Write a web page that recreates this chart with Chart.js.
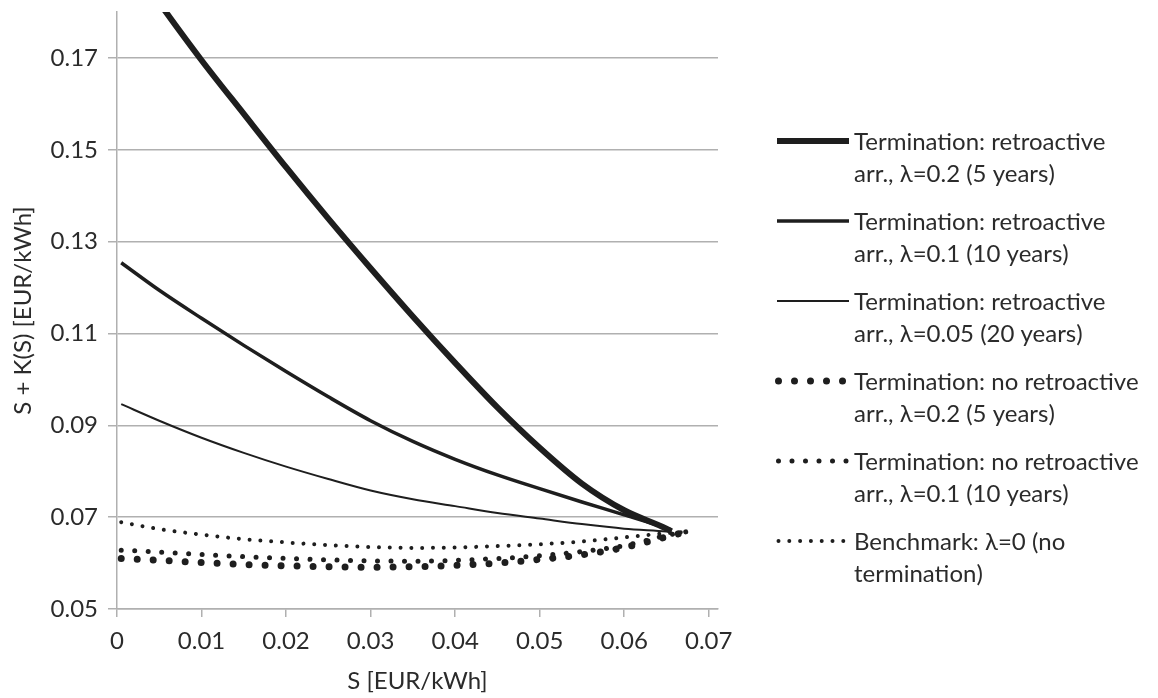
<!DOCTYPE html>
<html>
<head>
<meta charset="utf-8">
<script src="https://cdn.jsdelivr.net/npm/chart.js@4.4.1/dist/chart.umd.min.js"></script>
<style>
  html, body { margin: 0; padding: 0; background: #fff; }
  #wrap { position: relative; width: 1158px; height: 698px; font-family: Lato, sans-serif; color: #2b2b2b; }
  #legend { position: absolute; left: 775px; top: 125px; }
  .entry { display: flex; align-items: flex-start; height: 80px; }
  .entry svg { flex: 0 0 auto; margin-top: 6px; }
  .entry span { margin-left: 5px; font-size: 24px; line-height: 32px; white-space: pre-line; }
</style>
</head>
<body>
<div id="wrap">
  <canvas id="chart" width="1158" height="698"></canvas>
  <div id="legend"></div>
</div>
<script>
// S grid (EUR/kWh) for the retroactive and the non-retroactive curves
const sRetro = [0.0005, 0.005, 0.01, 0.015, 0.02, 0.025, 0.03, 0.035, 0.04, 0.045, 0.05, 0.055, 0.06, 0.065, 0.0656];
const sNoRetro = [0.0005, 0.005, 0.01, 0.015, 0.02, 0.025, 0.03, 0.035, 0.04, 0.045, 0.05, 0.055, 0.06, 0.065, 0.0673];

// S + K(S)
const retro02 = [0.1938, 0.1820, 0.1695, 0.1578, 0.1462, 0.1350, 0.1242, 0.1137, 0.1036, 0.0939, 0.0851, 0.0773, 0.0715, 0.0675, 0.0669];
const retro01 = [0.1254, 0.1194, 0.1133, 0.1074, 0.1017, 0.0962, 0.0910, 0.0865, 0.0826, 0.0792, 0.0762, 0.0733, 0.0705, 0.0676, 0.0672];
const retro005 = [0.0946, 0.0910, 0.0873, 0.0840, 0.0810, 0.0783, 0.0758, 0.0739, 0.0724, 0.0709, 0.0697, 0.0685, 0.0675, 0.0669, 0.0668];
const noRetro02 = [0.0610, 0.0606, 0.0601, 0.0597, 0.0594, 0.0592, 0.0591, 0.0592, 0.0595, 0.0600, 0.0608, 0.0618, 0.0634, 0.0657, 0.0668];
const noRetro01 = [0.0628, 0.0624, 0.0619, 0.0614, 0.0610, 0.0607, 0.0605, 0.0604, 0.0606, 0.0610, 0.0616, 0.0625, 0.0638, 0.0660, 0.0668];
const benchmark = [0.0689, 0.0674, 0.0662, 0.0652, 0.0645, 0.0639, 0.0635, 0.0633, 0.0634, 0.0637, 0.0641, 0.0647, 0.0656, 0.0665, 0.0668];

const seriesLabels = [
  'Termination: retroactive\narr., λ=0.2 (5 years)',
  'Termination: retroactive\narr., λ=0.1 (10 years)',
  'Termination: retroactive\narr., λ=0.05 (20 years)',
  'Termination: no retroactive\narr., λ=0.2 (5 years)',
  'Termination: no retroactive\narr., λ=0.1 (10 years)',
  'Benchmark: λ=0 (no\ntermination)',
];

const xTicks = [0, 0.01, 0.02, 0.03, 0.04, 0.05, 0.06, 0.07];
const yTicks = [0.05, 0.07, 0.09, 0.11, 0.13, 0.15, 0.17];

// line look: width, and gap between round dots (0 = solid)
const looks = [
  { w: 6, gap: 0 },
  { w: 3.5, gap: 0 },
  { w: 2, gap: 0 },
  { w: 7, gap: 16 },
  { w: 5, gap: 13.5 },
  { w: 4, gap: 10.8 },
];

const xs = [sRetro, sRetro, sRetro, sNoRetro, sNoRetro, sNoRetro];
const ys = [retro02, retro01, retro005, noRetro02, noRetro01, benchmark];

const INK = '#1e1e1e';
const GRID = '#b0b0b0';
const TEXT = '#2b2b2b';

Chart.defaults.font.family = 'Lato, sans-serif';
Chart.defaults.font.size = 24;
Chart.defaults.color = TEXT;

const datasets = ys.map((vals, i) => ({
  label: seriesLabels[i],
  data: vals.map((v, j) => ({ x: xs[i][j], y: v })),
  borderColor: INK,
  borderWidth: looks[i].w,
  borderDash: looks[i].gap ? [0.001, looks[i].gap] : [],
  borderCapStyle: looks[i].gap ? 'round' : 'butt',
  cubicInterpolationMode: 'monotone',
  pointRadius: 0,
  fill: false,
  clip: 0,
}));

new Chart(document.getElementById('chart'), {
  type: 'line',
  data: { datasets },
  options: {
    responsive: false,
    animation: false,
    layout: { padding: { top: 12, right: 440, left: 0, bottom: 0 } },
    plugins: { legend: { display: false }, tooltip: { enabled: false } },
    scales: {
      x: {
        type: 'linear',
        min: 0,
        max: 0.0711,
        afterBuildTicks: (s) => { s.ticks = xTicks.map((v) => ({ value: v })); },
        afterFit: (s) => { s.height = 89; s.paddingLeft = 0; s.paddingRight = 0; },
        ticks: { padding: 10, maxRotation: 0, callback: (v) => (v === 0 ? '0' : v.toFixed(2)) },
        grid: { drawOnChartArea: false, drawTicks: true, tickLength: 8, color: GRID, lineWidth: 1.5 },
        border: { color: GRID, width: 1.5 },
        title: { display: true, text: 'S [EUR/kWh]', padding: { top: 0, bottom: 2 } },
      },
      y: {
        min: 0.05,
        max: 0.18,
        afterBuildTicks: (s) => { s.ticks = yTicks.map((v) => ({ value: v })); },
        afterFit: (s) => { s.width = 117; s.paddingTop = 0; s.paddingBottom = 0; },
        ticks: { padding: 10, callback: (v) => v.toFixed(2) },
        grid: { color: GRID, lineWidth: 1.5, tickLength: 9 },
        border: { color: GRID, width: 1.5 },
        title: { display: true, text: 'S + K(S) [EUR/kWh]', padding: { top: 9, bottom: 0 } },
      },
    },
  },
});

// legend on the right, built from the same labels and looks
const legend = document.getElementById('legend');
seriesLabels.forEach((name, i) => {
  const lk = looks[i];
  const dash = lk.gap ? `stroke-dasharray="0.001 ${lk.gap}" stroke-linecap="round"` : '';
  const x1 = lk.gap ? 3.5 : 2;
  const x2 = lk.gap ? 73 : 74;
  const row = document.createElement('div');
  row.className = 'entry';
  row.innerHTML = `<svg width="74" height="20"><line x1="${x1}" y1="10" x2="${x2}" y2="10" stroke="${INK}" stroke-width="${lk.w}" ${dash}/></svg><span>${name}</span>`;
  legend.appendChild(row);
});
</script>
</body>
</html>
